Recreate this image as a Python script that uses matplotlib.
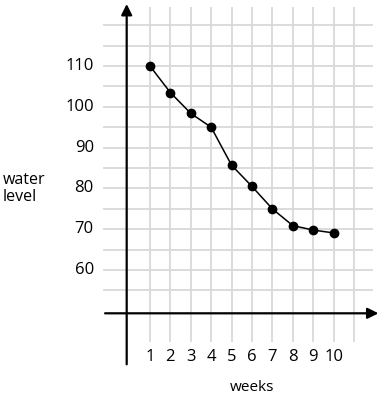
import matplotlib
matplotlib.use("Agg")
import matplotlib.pyplot as plt
import numpy as np

weeks = [1, 2, 3, 4, 5, 6, 7, 8, 9, 10]
water_level = [110, 103.5, 98.4, 95, 85.7, 80.5, 75, 70.9, 69.8, 69.1]
y_ticks = [60, 70, 80, 90, 100, 110]
x_ticks = [1, 2, 3, 4, 5, 6, 7, 8, 9, 10]

plt.rcParams['font.family'] = ['Open Sans', 'DejaVu Sans']

fig = plt.figure(figsize=(3.87, 3.99), dpi=100)
ax = fig.add_axes([0, 0, 1, 1])
ax.set_xlim(-6.35, 12.62)
ax.set_ylim(28.4, 126.18)
ax.axis('off')

grid_col = '#d9d9d9'
# vertical grid lines
for w in range(1, 12):
    ax.plot([w, w], [42.4, 124.5], color=grid_col, lw=1.3, zorder=1, solid_capstyle='butt')
# horizontal grid lines
for v in range(55, 121, 5):
    ax.plot([-1.3, 11.93], [v, v], color=grid_col, lw=1.3, zorder=1, solid_capstyle='butt')

# axes with arrows
ax.annotate('', xy=(-0.14, 125.2), xytext=(-0.14, 36.9),
            arrowprops=dict(arrowstyle='-|>', lw=1.6, color='black', mutation_scale=16, shrinkA=0, shrinkB=0), zorder=3)
ax.annotate('', xy=(12.2, 49.4), xytext=(-1.2, 49.4),
            arrowprops=dict(arrowstyle='-|>', lw=1.6, color='black', mutation_scale=16, shrinkA=0, shrinkB=0), zorder=3)

# data
ax.plot(weeks, water_level, color='black', lw=1.1, marker='o', markersize=6, zorder=4)

# tick labels
for v in y_ticks:
    ax.text(-1.75, v, str(v), ha='right', va='center', fontsize=12, color='black')
for w in x_ticks:
    ax.text(w, 38.6, str(w), ha='center', va='center', fontsize=12, color='black')

ax.text(6.0, 31.3, 'weeks', ha='center', va='center', fontsize=11, color='black')
ax.text(-6.2, 80.0, 'water\nlevel', ha='left', va='center', fontsize=11.5, color='black', linespacing=1.15)

fig.savefig('out.png', dpi=100)
